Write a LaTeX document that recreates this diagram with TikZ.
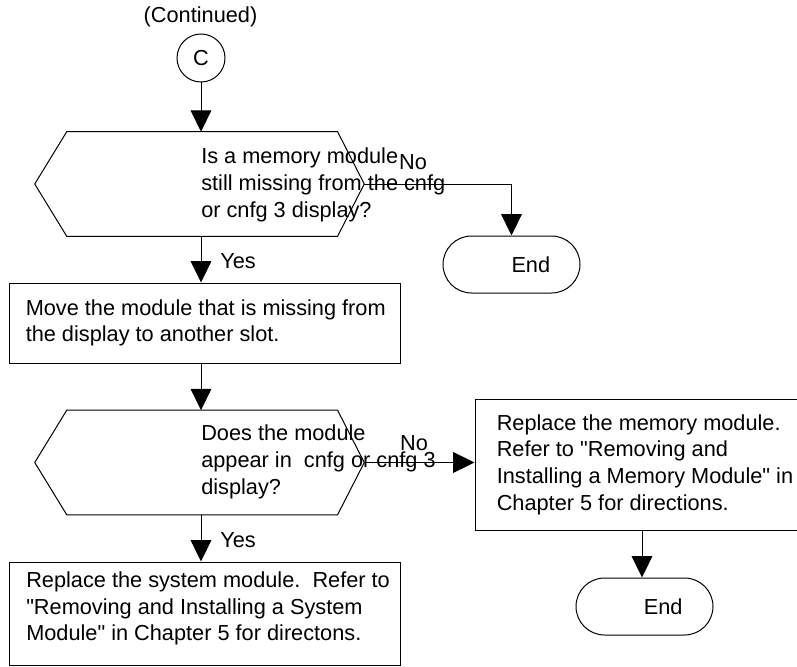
\documentclass[tikz,border=0pt]{standalone}
\usepackage{fontspec}
\setmainfont{Liberation Sans}
\usetikzlibrary{arrows.meta,shapes.misc}
\newcommand{\qq}{\textquotedbl{}}
\begin{document}
\begin{tikzpicture}[x=0.75pt,y=-0.75pt,
  every node/.style={font=\fontsize{16.3pt}{20pt}\selectfont, inner sep=0pt},
  line/.style={line width=0.75pt, draw=black},
  arr/.style={line, -{Triangle[length=16pt,width=15.5pt]}},
  shapebox/.style={draw, line width=0.75pt, rectangle},
  hexarea/.style={rectangle, minimum width=246.75pt, minimum height=78pt},
  term/.style={draw, line width=0.75pt, rounded rectangle, minimum width=102.75pt, minimum height=42.75pt},
  txt/.style={align=left, anchor=west},
]
\clip (0,0) rectangle (797,667);
\useasboundingbox (0,0) rectangle (797,667);

% nodes
\node (cont) at (200.5,16.5) {(Continued)};
\node[draw, line width=0.75pt, circle, minimum size=36pt] (c) at (201,58) {C};

\node[hexarea] (d1) at (199.5,184) {};
\draw[line] ([xshift=24pt]d1.north west) -- ([xshift=-20pt]d1.north east) -- (d1.east)
  -- ([xshift=-20pt]d1.south east) -- ([xshift=24pt]d1.south west) -- (d1.west) -- cycle;
\node[txt] (d1t) at (201,185) {Is a memory module\\still missing from the cnfg\\or cnfg 3 display?};

\node[term] (e1) at (511.5,264.5) {};
\node (e1t) at ([xshift=14.5pt]e1.center) {End};

\node[shapebox, minimum width=293.25pt, minimum height=60pt] (b1) at (204.5,323) {};
\node[txt] (b1t) at ([xshift=12.75pt]b1.west) {Move the module that is missing from\\the display to another slot.};

\node[hexarea] (d2) at (199.5,462.5) {};
\draw[line] ([xshift=24pt]d2.north west) -- ([xshift=-20pt]d2.north east) -- (d2.east)
  -- ([xshift=-20pt]d2.south east) -- ([xshift=24pt]d2.south west) -- (d2.west) -- cycle;
\node[txt] (d2t) at (201,462) {Does the module\\appear in\ \ cnfg or cnfg 3\\display?};

\node[shapebox, minimum width=250.5pt, minimum height=98.25pt] (b2) at (642,464.5) {};
\node[txt] (b2t) at ([xshift=16.5pt]b2.west) {Replace the memory module.\\Refer to \qq Removing and\\Installing a Memory Module\qq\ in\\Chapter 5 for directions.};

\node[term] (e2) at (644.5,606.5) {};
\node (e2t) at ([xshift=14pt]e2.center) {End};

\node[shapebox, minimum width=293.25pt, minimum height=77.25pt] (b3) at (204.5,613.5) {};
\node[txt] (b3t) at (26,608.5) {Replace the system module.\ \ Refer to\\\qq Removing and Installing a System\\Module\qq\ in Chapter 5 for directons.};

% labels
\node (no1) at (413,162) {No};
\node (yes1) at (238,261) {Yes};
\node (no2) at (414,443) {No};
\node (yes2) at (238,540) {Yes};

% connectors
\draw[arr] (c.south) -- (c |- d1.north);
\draw[arr] (d1.east) -| (e1.north);
\draw[arr] (c |- d1.south) -- (c |- b1.north);
\draw[arr] (c |- b1.south) -- (c |- d2.north);
\draw[arr] (d2.east) -- (d2.east -| b2.west);
\draw[arr] (c |- d2.south) -- (c |- b3.north);
\draw[arr] (b2.south) -- (b2.south |- e2.north);
\end{tikzpicture}
\end{document}
